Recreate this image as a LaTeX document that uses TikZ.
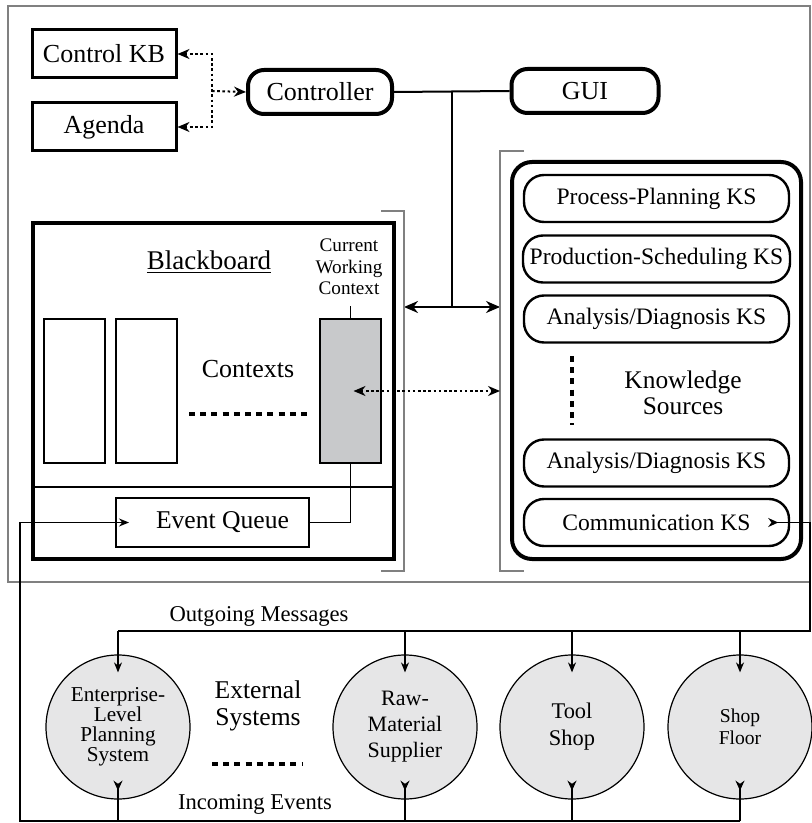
\documentclass[tikz,border=0pt]{standalone}
\usepackage{fontspec}
\setmainfont{Liberation Serif}
\usetikzlibrary{arrows.meta}

\definecolor{ctxgray}{RGB}{200,201,203}
\definecolor{extgray}{RGB}{230,230,231}

\begin{document}
\begin{tikzpicture}[x=0.5pt, y=-0.5pt,
		box/.style={draw, line width=1.5pt, minimum width=72pt, minimum height=24pt, font=\fontsize{13}{15}\selectfont},
		pill/.style={draw, line width=2pt, rounded corners=8pt, minimum height=22pt, font=\fontsize{13}{15}\selectfont},
		ksbox/.style={draw, line width=1.2pt, rounded corners=10pt, minimum width=132.5pt, minimum height=23.5pt, font=\fontsize{11.8}{14}\selectfont},
		ctxbox/.style={draw, line width=1.2pt, minimum width=30.5pt, minimum height=72pt},
		extsys/.style={draw, circle, line width=0.6pt, fill=extgray, minimum size=72pt, inner sep=0pt, align=center},
		frameline/.style={draw=gray, line width=0.8pt},
		wire/.style={line width=0.7pt},
		dotrow/.style={line width=2pt, dash pattern=on 3pt off 2.6pt},
		dotwire/.style={line width=1pt, dash pattern=on 1.3pt off 1.3pt},
		tip/.style={-{Stealth[length=6pt, width=5pt]}},
		smalltip/.style={-{Stealth[length=5pt, width=4pt]}},
		marker/.style={{Stealth[length=5pt, width=4.5pt, reversed]}-}
	]
	\useasboundingbox (0,0) rectangle (812,823);
	\draw[frameline] (8,6) rectangle (810,582);

	\node[box] (ckb) at (104,54) {Control KB};
	\node[box] (agenda) at (104,127) {Agenda};
	\node[pill, minimum width=72pt] (ctrl) at (320,92) {Controller};
	\node[pill, minimum width=73.5pt] (gui) at (585,91) {GUI};

	\coordinate (dj) at (212,91);
	\draw[dotwire, {Stealth[length=6pt, width=5pt]}-{Stealth[length=6pt, width=5pt]}] (ckb.east) -| (dj) |- (agenda.east);
	\draw[dotwire, tip] (dj) -- (ctrl.west);

	\coordinate (jn) at (452,91);
	\coordinate (jd) at (452,307);
	\coordinate (bbr) at (404,307);
	\coordinate (ksl) at (500,307);
	\draw[line width=1pt] (ctrl.east) -- (gui.west);
	\draw[line width=1pt] (jn) -- (jd);
	\draw[line width=1pt, {Stealth[length=7pt, width=6pt]}-{Stealth[length=7pt, width=6pt]}] (bbr) -- (ksl);

	\node[draw, line width=1.8pt, minimum width=180.5pt, minimum height=168pt] (bb) at (213.5,391) {};
	\coordinate (bbsplit) at (0,487);
	\draw[line width=0.8pt] (bb.west |- bbsplit) -- (bb.east |- bbsplit);
	\draw[frameline] (381,211) -- (404,211) -- (404,571) -- (381,571);
	\draw[frameline] (524,151) -- (500,151) -- (500,571) -- (524,571);

	\node[font=\fontsize{13.5}{15}\selectfont] (bbtitle) at (209,262) {\underline{Blackboard}};
	\node[font=\fontsize{9.6}{10.8}\selectfont, align=center] (cwc) at (349,267) {Current\\Working\\Context};
	\node[ctxbox] (c1) at (74.5,391) {};
	\node[ctxbox] (c2) at (146.5,391) {};
	\node[ctxbox, fill=ctxgray] (cur) at (350.5,391) {};
	\node[font=\fontsize{13}{15}\selectfont] (ctx) at (248,369) {Contexts};
	\draw[dotrow] (189,414) -- (309,414);
	\draw[line width=0.8pt] (cur.north) -- ++(0,-12);
	\node[draw, line width=1pt, minimum width=96.5pt, minimum height=24.5pt, font=\fontsize{12.8}{15}\selectfont] (eq) at (212.5,522.5) {\hspace{10pt}Event Queue};
	\draw[wire] (cur.south) |- (eq.east);

	\node[draw, line width=2pt, rounded corners=10pt, minimum width=144.5pt, minimum height=198.5pt] (kspanel) at (656.5,360.5) {};
	\node[ksbox] (ks1) at (656.5,198.5) {Process-Planning KS};
	\node[ksbox] (ks2) at (656.5,259) {Production-Scheduling KS};
	\node[ksbox] (ks3) at (656.5,319) {Analysis/Diagnosis KS};
	\node[ksbox] (ks4) at (656.5,463) {Analysis/Diagnosis KS};
	\node[ksbox] (comm) at (656.5,522.5) {Communication KS\hspace{14pt}};
	\draw[dotrow] (572,356) -- (572,425);
	\node[font=\fontsize{12.7}{13.2}\selectfont, align=center] (kslabel) at (683,393) {Knowledge\\Sources};

	\draw[dotwire, {Stealth[length=6pt, width=5pt]}-{Stealth[length=6pt, width=5pt]}] ([xshift=1.5pt]cur.center) -- (ksl |- cur.center);

	\node[extsys, font=\fontsize{10.6}{10}\selectfont] (ent) at (118,727) {Enterprise-\\Level\\Planning\\System};
	\node[extsys, font=\fontsize{11}{13}\selectfont] (raw) at (405,727) {Raw-\\Material\\Supplier};
	\node[extsys, font=\fontsize{11.2}{13.5}\selectfont] (tool) at (572,727) {Tool\\Shop};
	\node[extsys, font=\fontsize{9.8}{11}\selectfont] (shop) at (740,727) {Shop\\Floor};
	\node[font=\fontsize{12.8}{13.5}\selectfont, align=center] (extlabel) at (258,706) {External\\Systems};
	\draw[dotrow] (212,764) -- (302,764);

	\coordinate (outR) at (810,631);
	\coordinate (outL) at (118,631);
	\coordinate (inR) at (740,821);
	\coordinate (inL) at (20,821);
	\node[font=\fontsize{11.3}{13}\selectfont] (outlabel) at (259,616) {Outgoing Messages};
	\node[font=\fontsize{11.3}{13}\selectfont] (inlabel) at (255,804) {Incoming Events};

	\draw[wire, marker] ([xshift=-11pt]comm.east) -| (outR) -- (outL);
	\draw[wire, smalltip] (inR) -- (inL) |- ([xshift=7pt]eq.west);
	\foreach \c in {ent,raw,tool,shop} {
		\draw[wire, smalltip] (\c.north |- outL) -- ([yshift=-9pt]\c.north);
		\draw[wire, marker] ([yshift=9.5pt]\c.south) -- (\c.south |- inL);
	}
\end{tikzpicture}
\end{document}
